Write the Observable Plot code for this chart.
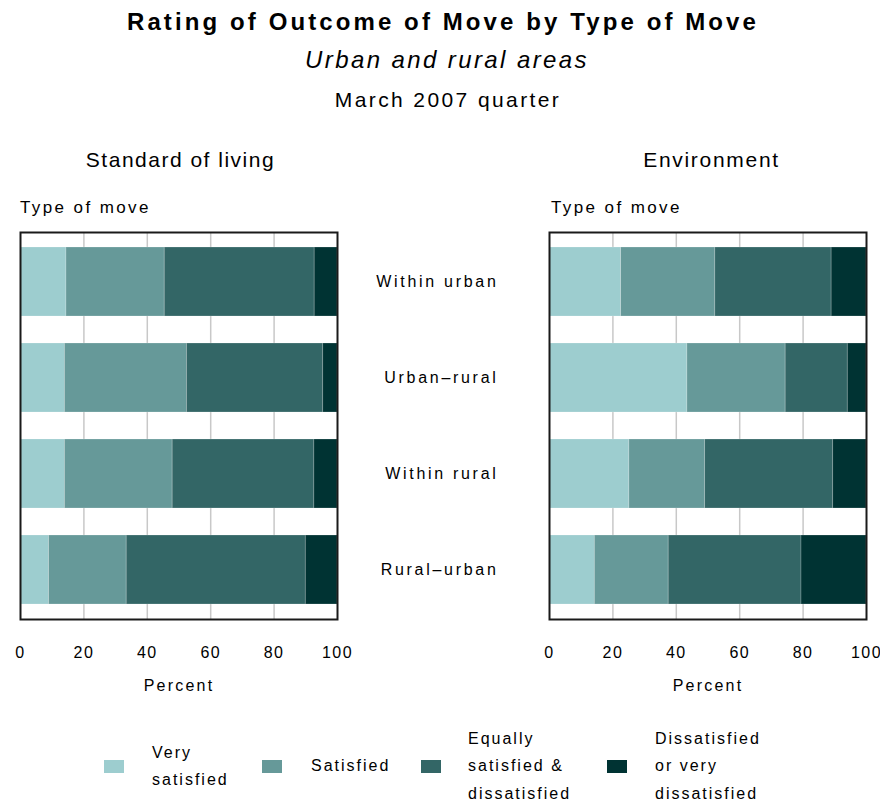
<!DOCTYPE html>
<html>
<head>
<meta charset="utf-8">
<script src="https://cdn.jsdelivr.net/npm/d3@7"></script>
<script src="https://cdn.jsdelivr.net/npm/@observablehq/plot@0.6"></script>
<style>
  html, body { margin: 0; padding: 0; background: #fff; }
  #chart { position: relative; width: 880px; height: 803px; font-family: "Liberation Sans", Arial, sans-serif; color: #000; overflow: hidden; }
  .t { position: absolute; white-space: nowrap; line-height: 1; }
  .center { width: 880px; text-align: center; }
  .panel { position: absolute; top: 225px; }
  .panel svg g[aria-label="x-axis tick label"] text { letter-spacing: 1.4px; }
  .panel svg g[aria-label="x-axis label"] text { letter-spacing: 2.2px; }
  .panel svg g[aria-label="y-axis tick label"] text { letter-spacing: 2.7px; }
  .leg { position: absolute; font-size: 16px; letter-spacing: 2px; line-height: 27.5px; white-space: nowrap; }
  .sw { position: absolute; width: 20px; height: 13px; }
</style>
</head>
<body>
<div id="chart">
  <div class="t center" style="left:3px;top:10px;font-size:24px;font-weight:bold;letter-spacing:3.1px;">Rating of Outcome of Move by Type of Move</div>
  <div class="t center" style="left:7px;top:48px;font-size:24px;font-style:italic;letter-spacing:2.4px;">Urban and rural areas</div>
  <div class="t center" style="left:8px;top:89px;font-size:21px;letter-spacing:2.4px;">March 2007 quarter</div>
  <div class="t" style="top:149px;left:22px;width:317px;text-align:center;font-size:21px;letter-spacing:1.5px;">Standard of living</div>
  <div class="t" style="top:149px;left:553px;width:317px;text-align:center;font-size:21px;letter-spacing:1.7px;">Environment</div>
  <div class="t" style="top:199px;left:20px;font-size:17px;letter-spacing:2.4px;">Type of move</div>
  <div class="t" style="top:199px;left:551px;font-size:17px;letter-spacing:2.4px;">Type of move</div>
  <div id="left" class="panel" style="left:0px;"></div>
  <div id="right" class="panel" style="left:345px;"></div>
  <div id="legend"></div>
</div>
<script>
// ---- data ----
const moveTypes = ["Within urban", "Urban\u2013rural", "Within rural", "Rural\u2013urban"];
const ratings = ["Very satisfied", "Satisfied", "Equally satisfied & dissatisfied", "Dissatisfied or very dissatisfied"];
const ratingColors = ["#9dcdcf", "#669999", "#336666", "#003333"];

// Standard of living (percent), one array per rating, in moveTypes order
const livingVerySatisfied = [14.5, 14.0, 14.0, 9.0];
const livingSatisfied     = [31.0, 38.5, 34.0, 24.5];
const livingEqually       = [47.3, 43.0, 44.7, 56.5];
const livingDissatisfied  = [7.2, 4.5, 7.3, 10.0];

// Environment (percent)
const envVerySatisfied = [22.6, 43.5, 25.2, 14.3];
const envSatisfied     = [29.7, 31.0, 23.9, 23.3];
const envEqually       = [36.7, 19.6, 40.4, 41.9];
const envDissatisfied  = [11.0, 5.9, 10.5, 20.5];

const xTicks = [0, 20, 40, 60, 80, 100];

function toRows(series) {
  const rows = [];
  moveTypes.forEach((m, i) => {
    ratings.forEach((r, j) => rows.push({move: m, rating: r, value: series[j][i]}));
  });
  return rows;
}
const livingRows = toRows([livingVerySatisfied, livingSatisfied, livingEqually, livingDissatisfied]);
const envRows = toRows([envVerySatisfied, envSatisfied, envEqually, envDissatisfied]);

function panel(rows, opts) {
  return Plot.plot({
    width: opts.width,
    height: 474,
    marginTop: 7,
    marginBottom: 80,
    marginLeft: opts.marginLeft,
    marginRight: opts.marginRight,
    style: {fontFamily: "'Liberation Sans', Arial, sans-serif", fontSize: "16px", color: "#000", background: "transparent"},
    x: {domain: [0, 100]},
    y: {domain: moveTypes, paddingInner: 0.286, paddingOuter: 0.145},
    color: {domain: ratings, range: ratingColors},
    marks: [
      Plot.gridX(xTicks.filter(d => d > 0 && d < 100), {stroke: "#c8c8c8", strokeOpacity: 1, strokeWidth: 1.5}),
      Plot.barX(rows, Plot.stackX({x: "value", y: "move", fill: "rating", stroke: "#ffffff", strokeOpacity: 0.25, strokeWidth: 0.8})),
      Plot.frame({stroke: "#1a1a1a", strokeWidth: 2}),
      Plot.axisX({ticks: xTicks, tickSize: 0, tickPadding: 27, fontSize: 16, label: "Percent", labelAnchor: "center", labelArrow: "none", labelOffset: 71}),
      opts.showY
        ? Plot.axisY({tickSize: 0, tickPadding: 51, fontSize: 16, label: null})
        : Plot.axisY({ticks: [], label: null})
    ]
  });
}

document.getElementById("left").appendChild(panel(livingRows, {width: 360, marginLeft: 20, marginRight: 23, showY: false}));
document.getElementById("right").appendChild(panel(envRows, {width: 535, marginLeft: 204, marginRight: 14, showY: true}));

// ---- legend ----
const legendLabels = [["Very", "satisfied"], ["Satisfied"], ["Equally", "satisfied &", "dissatisfied"], ["Dissatisfied", "or very", "dissatisfied"]];
const swatchX = [104, 262, 421, 607];
const textX = [152, 311, 468, 655];
const leg = document.getElementById("legend");
ratings.forEach((r, i) => {
  const sw = document.createElement("div");
  sw.className = "sw";
  sw.style.left = swatchX[i] + "px";
  sw.style.top = "760px";
  sw.style.background = ratingColors[i];
  leg.appendChild(sw);
  const tx = document.createElement("div");
  tx.className = "leg";
  const lines = legendLabels[i];
  tx.style.left = textX[i] + "px";
  tx.style.top = (766 - lines.length * 27.5 / 2) + "px";
  tx.innerHTML = lines.join("<br>");
  leg.appendChild(tx);
});
</script>
</body>
</html>
